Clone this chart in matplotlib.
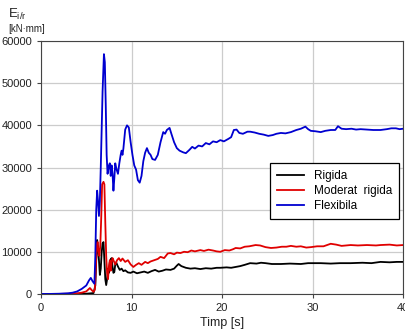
import matplotlib
matplotlib.use("Agg")
import matplotlib.pyplot as plt

plt.rcParams['font.family'] = ['Liberation Sans', 'DejaVu Sans']
plt.rcParams['mathtext.fontset'] = 'custom'
plt.rcParams['mathtext.rm'] = 'Liberation Sans'

# ---------------- data ----------------
t_blue = [0, 1, 2, 3, 3.5, 4, 4.5, 5, 5.3, 5.5, 5.7, 5.9, 6.0, 6.1, 6.2, 6.3, 6.4, 6.5, 6.6, 6.8,
          6.95, 7.05, 7.15, 7.25, 7.35, 7.5, 7.6, 7.7, 7.8, 7.9, 8.0, 8.1, 8.2, 8.35, 8.5, 8.65,
          8.8, 8.9, 9.0, 9.1, 9.3, 9.5, 9.7, 9.9, 10.1, 10.3, 10.5, 10.7, 10.9, 11.1, 11.3, 11.5,
          11.7, 11.9, 12.1, 12.3, 12.6, 12.9, 13.2, 13.5, 13.7, 13.9, 14.2, 14.4, 14.7, 15.0,
          15.3, 15.7, 16.0, 16.4, 16.7, 17.0, 17.4, 17.8, 18.2, 18.6, 19.0, 19.4, 19.8, 20.2,
          20.7, 21.0, 21.3, 21.6, 21.9, 22.3, 22.8, 23.1, 23.6, 24.1, 24.6, 25.1, 25.6, 26.0,
          26.5, 27.0, 27.6, 28.2, 28.7, 29.2, 29.5, 29.8, 30.3, 30.9, 31.4, 32.0, 32.5, 32.8,
          33.2, 33.7, 34.3, 34.8, 35.3, 36.0, 36.7, 37.5, 38.2, 38.7, 39.2, 39.6, 40]
v_blue = [0, 0, 50, 150, 300, 600, 1200, 2000, 3200, 3800, 3000, 2400, 9000, 20000, 24500, 22000,
          18500, 22000, 30000, 48000, 56900, 55000, 45000, 33000, 28500, 30500, 31000, 28000,
          30500, 28500, 24500, 27500, 31000, 29500, 28500, 31000, 33000, 34000, 33000, 34500,
          39000, 40000, 39500, 36000, 33000, 30500, 29500, 27000, 26400, 28000, 31500, 33500,
          34600, 33500, 33000, 32000, 31800, 33000, 36000, 38400, 38000, 38900, 39400, 38000,
          36000, 34600, 34000, 33600, 33400, 34200, 34900, 34500, 35200, 35000, 35800, 35500,
          36200, 36000, 36500, 36200, 36800, 37200, 38900, 39000, 38200, 38000, 38500, 38500,
          38300, 38000, 37800, 37500, 37700, 38000, 38200, 38100, 38400, 38900, 39200, 39700,
          39100, 38700, 38600, 38400, 38700, 38900, 38900, 39800, 39200, 39100, 39200, 39000,
          39100, 39000, 38900, 38900, 39100, 39300, 39300, 39100, 39200]

t_red = [0, 2, 3, 4, 4.5, 5, 5.4, 5.6, 5.8, 5.95, 6.05, 6.15, 6.25, 6.35, 6.45, 6.55, 6.65, 6.75,
         6.9, 7.0, 7.1, 7.2, 7.3, 7.4, 7.5, 7.6, 7.7, 7.8, 7.9, 8.0, 8.2, 8.4, 8.6, 8.8, 9.0,
         9.3, 9.6, 9.9, 10.2, 10.5, 10.8, 11.1, 11.5, 11.8, 12.1, 12.5, 12.9, 13.2, 13.6, 14.0,
         14.3, 14.7, 15.0, 15.4, 15.8, 16.2, 16.6, 17.0, 17.6, 18.0, 18.5, 19.0, 19.4, 19.8,
         20.3, 20.8, 21.2, 21.5, 22.0, 22.5, 23.0, 23.7, 24.2, 24.8, 25.4, 26.0, 26.6, 27.1,
         27.6, 28.2, 28.7, 29.3, 29.8, 30.5, 31.2, 32.0, 32.6, 33.2, 34.2, 35.0, 36.0, 37.0,
         37.5, 38.5, 39.3, 40]
v_red = [0, 0, 50, 150, 300, 600, 1400, 900, 500, 1000, 6000, 11500, 12300, 10000, 9000, 11600,
         18000, 26000, 26600, 26000, 17000, 9000, 5000, 3500, 6500, 8000, 5500, 7500, 8500, 8000,
         7000, 8000, 8500, 7800, 8400, 7600, 8000, 7000, 6400, 6900, 7300, 6900, 7600, 7300,
         7700, 8000, 8300, 8800, 8500, 9600, 9700, 9400, 9800, 9700, 10000, 9900, 10300, 10100,
         10400, 10200, 10500, 10300, 10100, 10000, 10400, 10300, 10600, 10900, 10800, 11200,
         11300, 11600, 11500, 11100, 10900, 11000, 11200, 11200, 11400, 11200, 11300, 11000,
         11100, 11300, 11300, 11900, 11700, 11400, 11600, 11500, 11600, 11500, 11600, 11700,
         11500, 11600]

t_black = [0, 3, 5, 5.8, 6.0, 6.1, 6.2, 6.3, 6.4, 6.5, 6.6, 6.7, 6.8, 6.9, 7.0, 7.1, 7.2, 7.3,
           7.4, 7.5, 7.6, 7.7, 7.8, 7.9, 8.0, 8.1, 8.2, 8.3, 8.5, 8.7, 8.9, 9.1, 9.3, 9.6, 9.9,
           10.2, 10.6, 11.0, 11.4, 11.8, 12.2, 12.6, 13.0, 13.4, 13.8, 14.3, 14.7, 15.0, 15.2,
           15.5, 16.0, 16.5, 17.0, 17.6, 18.2, 18.8, 19.4, 19.8, 20.5, 21.0, 21.5, 22.0, 22.5,
           23.1, 23.8, 24.3, 24.8, 25.5, 26.5, 27.5, 28.7, 29.5, 30.9, 32.0, 33.0, 34.2, 35.5,
           36.5, 37.5, 38.5, 39.3, 40]
v_black = [0, 0, 50, 200, 2000, 8000, 12800, 11000, 8000, 4500, 6000, 9800, 12000, 12300, 8000,
           3500, 2100, 3500, 6000, 5000, 7500, 8200, 8500, 6500, 5000, 5200, 7000, 7500, 6500,
           5700, 6000, 5400, 5600, 5100, 5000, 5300, 4900, 5100, 5300, 5000, 5400, 5700, 5300,
           5500, 5800, 5700, 6000, 6700, 7100, 6600, 6200, 6000, 6100, 5900, 6100, 6000, 6200,
           6200, 6300, 6200, 6400, 6600, 6900, 7300, 7200, 7400, 7300, 7100, 7100, 7200, 7100,
           7300, 7300, 7200, 7300, 7300, 7400, 7300, 7600, 7500, 7600, 7600]

series_names = ["Rigida", "Moderat  rigida", "Flexibila"]
x_ticks = [0, 10, 20, 30, 40]
y_ticks = [0, 10000, 20000, 30000, 40000, 50000, 60000]

# ---------------- figure ----------------
fig = plt.figure(figsize=(4.06, 3.34), dpi=100)
ax = fig.add_axes([0.101, 0.12, 0.892, 0.757])

ax.plot(t_black, v_black, color="black", lw=1.3, label=series_names[0])
ax.plot(t_red, v_red, color="#e00000", lw=1.3, label=series_names[1])
ax.plot(t_blue, v_blue, color="#0000d0", lw=1.3, label=series_names[2])

ax.set_xlim(0, 40)
ax.set_ylim(0, 60000)
ax.set_xticks(x_ticks)
ax.set_yticks(y_ticks)
ax.grid(True, color="#cccccc", lw=0.9)
ax.set_axisbelow(True)
ax.tick_params(labelsize=8, length=3, color="#444444", labelcolor="#222222")
for s in ax.spines.values():
    s.set_color("#444444")

ax.set_xlabel("Timp [s]", fontsize=9, color="#222222", labelpad=3)

fig.text(0.02, 0.945, r"E$_{\mathregular{i/r}}$", fontsize=9.5, color="#222222")
fig.text(0.02, 0.905, "[kN·mm]", fontsize=7, color="#222222")

leg = ax.legend(loc="upper right", bbox_to_anchor=(0.989, 0.518), borderaxespad=0,
                fontsize=8.5, frameon=True, fancybox=False, edgecolor="black",
                framealpha=1, handlelength=2.3, borderpad=0.6, labelspacing=0.25)
leg.get_frame().set_linewidth(0.9)

fig.savefig("out.png", dpi=100)
